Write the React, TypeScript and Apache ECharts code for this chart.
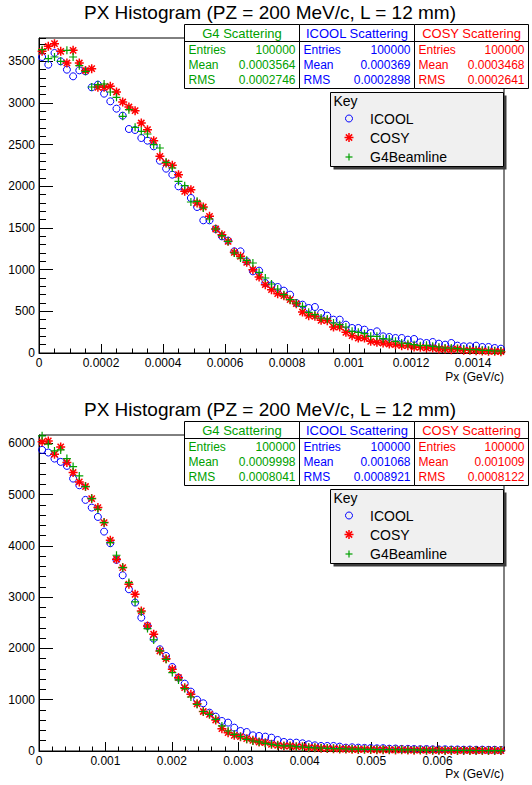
import React, { useEffect, useRef } from 'react';
import * as echarts from 'echarts';

// ---------- data (75 bins per histogram) ----------
const TOP_XMAX = 0.0015;
const BOT_XMAX = 0.007;
const TOP_YMAX = 3780;
const BOT_YMAX = 6160;

const topIcool = [3552, 3460, 3600, 3500, 3400, 3320, 3392, 3380, 3188, 3220, 3112, 3020, 2932, 2848, 2688, 2676, 2580, 2548, 2480, 2308, 2212, 2140, 2000, 1972, 1860, 1752, 1592, 1592, 1488, 1400, 1348, 1220, 1220, 1100, 980, 988, 840, 812, 792, 748, 700, 600, 580, 540, 552, 480, 448, 400, 400, 340, 300, 300, 280, 240, 260, 200, 192, 180, 180, 160, 168, 128, 120, 132, 112, 100, 120, 88, 80, 80, 88, 72, 72, 60, 52];
const topCosy = [3620, 3680, 3712, 3620, 3480, 3632, 3480, 3390, 3412, 3188, 3188, 3200, 3132, 3012, 2952, 2908, 2760, 2680, 2548, 2360, 2280, 2252, 2140, 1940, 1960, 1800, 1752, 1640, 1488, 1420, 1340, 1208, 1160, 1088, 1000, 912, 820, 760, 712, 688, 640, 592, 492, 448, 440, 392, 388, 312, 312, 248, 208, 180, 180, 140, 128, 120, 108, 100, 88, 88, 72, 68, 60, 60, 48, 48, 40, 48, 32, 32, 28, 24, 20, 20, 16];
const topG4 = [3640, 3532, 3552, 3500, 3632, 3552, 3448, 3380, 3192, 3220, 3228, 3132, 3068, 2840, 2920, 2708, 2660, 2628, 2500, 2460, 2288, 2220, 2060, 2008, 1812, 1820, 1740, 1608, 1488, 1408, 1340, 1200, 1140, 1112, 1080, 968, 900, 828, 768, 700, 640, 600, 560, 488, 460, 420, 408, 360, 340, 312, 260, 248, 232, 200, 200, 172, 168, 140, 120, 112, 100, 88, 92, 80, 72, 60, 60, 52, 48, 40, 40, 32, 32, 24, 24];

const botIcool = [5870, 5818, 5700, 5636, 5558, 5310, 5180, 4895, 4745, 4563, 4277, 4050, 3725, 3426, 3153, 2893, 2600, 2438, 2190, 1983, 1853, 1638, 1430, 1313, 1157, 1000, 930, 748, 670, 585, 553, 455, 390, 370, 305, 293, 280, 260, 215, 176, 163, 163, 150, 130, 110, 98, 98, 98, 85, 65, 72, 65, 60, 58, 52, 55, 45, 48, 40, 42, 38, 35, 38, 32, 30, 33, 28, 30, 25, 28, 24, 26, 22, 24, 20];
const botCosy = [6026, 6045, 5785, 5928, 5623, 5428, 5246, 5155, 4920, 4745, 4453, 4108, 3738, 3575, 3250, 3055, 2730, 2438, 2275, 1950, 1800, 1593, 1430, 1235, 1105, 920, 770, 715, 605, 435, 358, 305, 280, 240, 208, 176, 163, 130, 110, 98, 98, 85, 85, 65, 65, 52, 50, 45, 40, 38, 35, 30, 32, 28, 25, 24, 22, 20, 22, 18, 16, 18, 15, 14, 15, 12, 12, 10, 12, 10, 9, 10, 8, 9, 8];
const botG4 = [6143, 5980, 5850, 5870, 5700, 5545, 5363, 5155, 4920, 4713, 4453, 4063, 3816, 3575, 3283, 2906, 2710, 2386, 2165, 1950, 1788, 1528, 1385, 1216, 1053, 910, 770, 715, 618, 488, 390, 325, 280, 228, 195, 176, 150, 130, 110, 98, 98, 85, 78, 70, 62, 58, 52, 48, 45, 40, 38, 35, 33, 30, 28, 27, 25, 24, 22, 20, 20, 18, 17, 16, 15, 14, 14, 12, 12, 11, 10, 10, 9, 9, 8];

const statTitles = ['G4 Scattering', 'ICOOL Scattering', 'COSY Scattering'];
const statEntries = ['100000', '100000', '100000'];
const topMeans = ['0.0003564', '0.000369', '0.0003468'];
const topRms = ['0.0002746', '0.0002898', '0.0002641'];
const botMeans = ['0.0009998', '0.001068', '0.001009'];
const botRms = ['0.0008041', '0.0008921', '0.0008122'];

const legendNames = ['ICOOL', 'COSY', 'G4Beamline'];
const TITLE = 'PX Histogram (PZ = 200 MeV/c, L = 12 mm)';
const XTITLE = 'Px (GeV/c)';

// ---------- styles ----------
const FONT = 'Liberation Sans, Arial, Helvetica, sans-serif';
const BLUE = '#0000ff';
const RED = '#ff0000';
const GREEN = '#00a000';
const STAT_COLORS = [GREEN, BLUE, RED];

const ASTERISK = 'path://M0,5L10,5M5,0L5,10M1.5,1.5L8.5,8.5M1.5,8.5L8.5,1.5';
const PLUS = 'path://M0,5L10,5M5,0L5,10';

function binned(vals: number[], xmax: number) {
  const w = xmax / vals.length;
  return vals.map((v, i) => [(i + 0.5) * w, v]);
}

function txt(x: number, y: number, text: string, color: string, size: number, align: string) {
  return {
    type: 'text',
    x,
    y,
    z: 110,
    silent: true,
    style: {
      text,
      fill: color,
      font: `${size}px ${FONT}`,
      textAlign: align,
      align,
      textVerticalAlign: 'middle',
      verticalAlign: 'middle',
    },
  };
}

function statBoxes(dy: number, means: string[], rms: string[]) {
  const edges = [184.5, 299.5, 414.5, 528.5];
  const top = 24.5 + dy;
  const bottom = 88.5 + dy;
  const els: any[] = [];
  for (let k = 0; k < 3; k++) {
    const l = edges[k];
    const r = edges[k + 1];
    const c = STAT_COLORS[k];
    els.push({
      type: 'rect',
      z: 100,
      silent: true,
      shape: { x: l, y: top, width: r - l, height: bottom - top },
      style: { fill: '#ffffff', stroke: '#000000', lineWidth: 1 },
    });
    els.push({
      type: 'line',
      z: 105,
      silent: true,
      shape: { x1: l, y1: 41.5 + dy, x2: r, y2: 41.5 + dy },
      style: { stroke: '#000000', lineWidth: 1 },
    });
    els.push(txt((l + r) / 2, 33 + dy, statTitles[k], c, 13, 'center'));
    const rows = [
      ['Entries', statEntries[k]],
      ['Mean', means[k]],
      ['RMS', rms[k]],
    ];
    rows.forEach((row, j) => {
      const y = 49.5 + dy + j * 15;
      els.push(txt(l + 4, y, row[0], c, 12, 'left'));
      els.push(txt(r - 4, y, row[1], c, 12, 'right'));
    });
  }
  return els;
}

function legendBox(dy: number) {
  const l = 330.5;
  const r = 503.5;
  const t = 92.5 + dy;
  const b = 166.5 + dy;
  const els: any[] = [];
  els.push({
    type: 'rect', z: 100, silent: true,
    shape: { x: l + 3, y: t + 3, width: r - l, height: b - t },
    style: { fill: '#3c3c3c' },
  });
  els.push({
    type: 'rect', z: 101, silent: true,
    shape: { x: l, y: t, width: r - l, height: b - t },
    style: { fill: '#f0f0f0', stroke: '#000000', lineWidth: 1 },
  });
  els.push(txt(l + 3, 101 + dy, 'Key', '#000000', 14, 'left'));
  const mx = 349;
  const rowsY = [118.5 + dy, 137.5 + dy, 157 + dy];
  els.push({
    type: 'circle', z: 105, silent: true,
    shape: { cx: mx, cy: rowsY[0], r: 3.5 },
    style: { fill: 'none', stroke: BLUE, lineWidth: 1 },
  });
  const s = 4.5;
  const segs = [
    [-s, 0, s, 0], [0, -s, 0, s], [-s * 0.7, -s * 0.7, s * 0.7, s * 0.7], [-s * 0.7, s * 0.7, s * 0.7, -s * 0.7],
  ];
  segs.forEach((g) => {
    els.push({
      type: 'line', z: 105, silent: true,
      shape: { x1: mx + g[0], y1: rowsY[1] + g[1], x2: mx + g[2], y2: rowsY[1] + g[3] },
      style: { stroke: RED, lineWidth: 1.5 },
    });
  });
  [[-3.5, 0, 3.5, 0], [0, -3.5, 0, 3.5]].forEach((g) => {
    els.push({
      type: 'line', z: 105, silent: true,
      shape: { x1: mx + g[0], y1: rowsY[2] + g[1], x2: mx + g[2], y2: rowsY[2] + g[3] },
      style: { stroke: GREEN, lineWidth: 1.2 },
    });
  });
  legendNames.forEach((n, i) => {
    els.push(txt(370, rowsY[i], n, '#000000', 14, 'left'));
  });
  return els;
}

function xFmt(v: number) {
  if (v === 0) return '0';
  return String(parseFloat(v.toPrecision(6)));
}

function xMain(gridIndex: number, max: number, interval: number) {
  return {
    type: 'value', gridIndex, position: 'bottom', min: 0, max, interval,
    axisLine: { show: true, onZero: false, lineStyle: { color: '#000', width: 1 } },
    axisTick: { show: true, inside: true, length: 9, lineStyle: { color: '#000', width: 1 } },
    axisLabel: {
      show: true, margin: 4, color: '#000', fontFamily: FONT, fontSize: 12,
      formatter: xFmt, showMaxLabel: false, showMinLabel: true,
    },
    splitLine: { show: false },
  };
}
function xMinor(gridIndex: number, max: number, interval: number) {
  return {
    type: 'value', gridIndex, position: 'bottom', min: 0, max, interval,
    axisLine: { show: false, onZero: false },
    axisTick: { show: true, inside: true, length: 4.5, lineStyle: { color: '#000', width: 1 } },
    axisLabel: { show: false },
    splitLine: { show: false },
  };
}
function yMain(gridIndex: number, max: number, interval: number) {
  return {
    type: 'value', gridIndex, position: 'left', min: 0, max, interval,
    axisLine: { show: true, onZero: false, lineStyle: { color: '#000', width: 1 } },
    axisTick: { show: true, inside: true, length: 14, lineStyle: { color: '#000', width: 1 } },
    axisLabel: {
      show: true, margin: 4, color: '#000', fontFamily: FONT, fontSize: 12,
      formatter: (v: number) => String(v), showMaxLabel: false, showMinLabel: true,
    },
    splitLine: { show: false },
  };
}
function yMinor(gridIndex: number, max: number, interval: number) {
  return {
    type: 'value', gridIndex, position: 'left', min: 0, max, interval,
    axisLine: { show: false, onZero: false },
    axisTick: { show: true, inside: true, length: 7, lineStyle: { color: '#000', width: 1 } },
    axisLabel: { show: false },
    splitLine: { show: false },
  };
}

function seriesSet(xi: number, yi: number, icool: number[], cosy: number[], g4: number[], xmax: number) {
  return [
    {
      type: 'scatter', name: 'ICOOL', xAxisIndex: xi, yAxisIndex: yi, silent: true,
      data: binned(icool, xmax), symbol: 'circle', symbolSize: 7, z: 3,
      itemStyle: { color: 'rgba(0,0,0,0)', borderColor: BLUE, borderWidth: 1, opacity: 1 },
    },
    {
      type: 'scatter', name: 'COSY', xAxisIndex: xi, yAxisIndex: yi, silent: true,
      data: binned(cosy, xmax), symbol: ASTERISK, symbolSize: 9, z: 4,
      itemStyle: { color: 'rgba(0,0,0,0)', borderColor: RED, borderWidth: 1.5, opacity: 1 },
    },
    {
      type: 'scatter', name: 'G4Beamline', xAxisIndex: xi, yAxisIndex: yi, silent: true,
      data: binned(g4, xmax), symbol: PLUS, symbolSize: 8, z: 5,
      itemStyle: { color: 'rgba(0,0,0,0)', borderColor: GREEN, borderWidth: 1.2, opacity: 1 },
    },
  ];
}

export default function App() {
  const ref = useRef<HTMLDivElement>(null);
  useEffect(() => {
    if (!ref.current) return;
    const chart = echarts.init(ref.current, undefined, { renderer: 'svg' });
    const DY = 397;
    const option: any = {
      animation: false,
      backgroundColor: '#ffffff',
      grid: [
        { left: 39, top: 38, width: 465, height: 315, show: true, borderColor: '#000', borderWidth: 1, backgroundColor: 'transparent' },
        { left: 39, top: 435, width: 465, height: 316, show: true, borderColor: '#000', borderWidth: 1, backgroundColor: 'transparent' },
      ],
      xAxis: [
        xMain(0, TOP_XMAX, 0.0002),
        xMinor(0, TOP_XMAX, 0.00005),
        xMain(1, BOT_XMAX, 0.001),
        xMinor(1, BOT_XMAX, 0.0002),
      ],
      yAxis: [
        yMain(0, TOP_YMAX, 500),
        yMinor(0, TOP_YMAX, 100),
        yMain(1, BOT_YMAX, 1000),
        yMinor(1, BOT_YMAX, 200),
      ],
      series: [
        ...seriesSet(0, 0, topIcool, topCosy, topG4, TOP_XMAX),
        ...seriesSet(2, 2, botIcool, botCosy, botG4, BOT_XMAX),
      ],
      graphic: {
        elements: [
          txt(270, 12, TITLE, '#000000', 19, 'center'),
          txt(270, 12 + DY, TITLE, '#000000', 19, 'center'),
          txt(504, 377, XTITLE, '#000000', 12, 'right'),
          txt(504, 774, XTITLE, '#000000', 12, 'right'),
          ...statBoxes(0, topMeans, topRms),
          ...statBoxes(DY, botMeans, botRms),
          ...legendBox(0),
          ...legendBox(DY),
        ],
      },
    };
    chart.setOption(option);
    return () => chart.dispose();
  }, []);
  return (
    <div
      ref={ref}
      style={{ position: 'fixed', left: 0, top: 0, width: 532, height: 785, background: '#fff' }}
    />
  );
}
